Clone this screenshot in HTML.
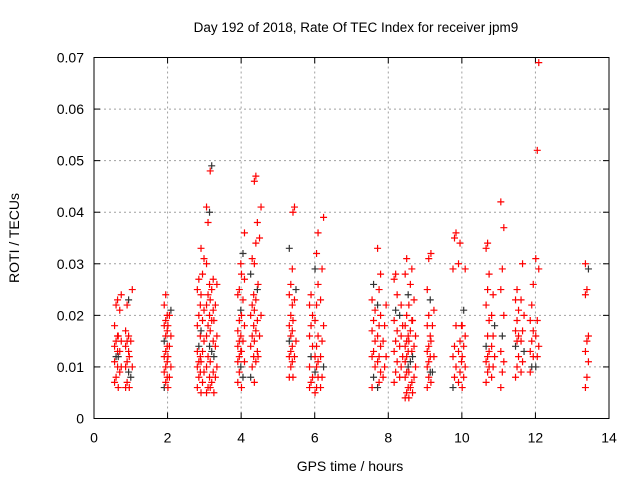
<!DOCTYPE html>
<html><head><meta charset="utf-8"><style>
body{margin:0;background:#fff}
svg{display:block;font-family:"Liberation Sans",sans-serif}
</style></head><body>
<svg id="chart" width="640" height="480" viewBox="0 0 640 480">
<text x="356" y="32" text-anchor="middle" font-size="13.5">Day 192 of 2018, Rate Of TEC Index for receiver jpm9</text>
<text x="350" y="471" text-anchor="middle" font-size="14">GPS time / hours</text>
<text x="0" y="0" transform="translate(19,238) rotate(-90)" text-anchor="middle" font-size="14">ROTI / TECUs</text>
<g id="grid"></g><g id="ticks"></g><g id="points"></g>
<rect x="94" y="57.5" width="515" height="361" fill="none" stroke="#000" stroke-width="1"/>
</svg>
<script>
const xTicks=[0,2,4,6,8,10,12,14];
const yTicks=[0,0.01,0.02,0.03,0.04,0.05,0.06,0.07];
const yTickLabels=["0","0.01","0.02","0.03","0.04","0.05","0.06","0.07"];
const strandX=[0.6,0.7,0.9,1.0,1.95,2.05,2.85,2.95,3.1,3.2,3.3,3.95,4.05,4.3,4.4,4.5,5.35,5.45,5.9,6.05,6.2,7.6,7.75,7.9,8.2,8.35,8.5,8.6,8.7,9.1,9.2,9.8,9.95,10.05,10.7,10.85,11.1,11.5,11.65,11.9,12.05,13.4];
const strandY=[
[0.007,0.008,0.010,0.011,0.012,0.013,0.014,0.015,0.016,0.018,0.022,0.023],
[0.006,0.009,0.010,0.012,0.013,0.015,0.016,0.021,0.024],
[0.006,0.007,0.009,0.010,0.011,0.013,0.014,0.015,0.016,0.017,0.022,0.023],
[0.006,0.008,0.010,0.012,0.015,0.025],
[0.006,0.007,0.008,0.009,0.010,0.011,0.012,0.013,0.014,0.015,0.016,0.017,0.018,0.019,0.020,0.022,0.024],
[0.006,0.008,0.010,0.012,0.014,0.016,0.018,0.020,0.021],
[0.006,0.008,0.009,0.010,0.011,0.012,0.013,0.014,0.016,0.018,0.020,0.022,0.025,0.027],
[0.005,0.007,0.009,0.011,0.013,0.015,0.017,0.019,0.021,0.024,0.028,0.031,0.033],
[0.005,0.006,0.008,0.010,0.012,0.014,0.016,0.018,0.020,0.022,0.024,0.026,0.030,0.038,0.040,0.041],
[0.006,0.007,0.009,0.011,0.013,0.015,0.017,0.019,0.021,0.023,0.025,0.027,0.048,0.049],
[0.005,0.008,0.010,0.012,0.014,0.016,0.019,0.022,0.026],
[0.007,0.009,0.010,0.011,0.012,0.013,0.014,0.015,0.016,0.017,0.019,0.021,0.024,0.025,0.030],
[0.006,0.008,0.011,0.013,0.015,0.018,0.020,0.023,0.027,0.028,0.032,0.036],
[0.008,0.010,0.012,0.014,0.016,0.018,0.020,0.022,0.024,0.028,0.031],
[0.007,0.011,0.013,0.015,0.017,0.019,0.021,0.023,0.025,0.030,0.034,0.038,0.046,0.047],
[0.012,0.016,0.020,0.026,0.035,0.041],
[0.008,0.010,0.011,0.012,0.013,0.014,0.015,0.016,0.017,0.018,0.020,0.022,0.024,0.026,0.029,0.033],
[0.008,0.012,0.015,0.019,0.023,0.025,0.040,0.041],
[0.006,0.007,0.008,0.010,0.012,0.014,0.016,0.018,0.020,0.022,0.024],
[0.005,0.006,0.008,0.009,0.010,0.011,0.012,0.014,0.016,0.019,0.022,0.026,0.029,0.032,0.036],
[0.006,0.008,0.010,0.012,0.015,0.018,0.023,0.029,0.039],
[0.006,0.008,0.010,0.012,0.013,0.015,0.017,0.019,0.021,0.023,0.026],
[0.006,0.007,0.009,0.011,0.012,0.014,0.016,0.018,0.020,0.022,0.025,0.028,0.033],
[0.008,0.010,0.012,0.015,0.018,0.022],
[0.007,0.009,0.011,0.013,0.015,0.017,0.019,0.021,0.024,0.027,0.028],
[0.008,0.010,0.012,0.014,0.016,0.018,0.020,0.022],
[0.004,0.005,0.006,0.008,0.009,0.010,0.011,0.012,0.013,0.014,0.015,0.016,0.018,0.020,0.024,0.028,0.031],
[0.004,0.006,0.007,0.009,0.011,0.013,0.015,0.017,0.019,0.022,0.026,0.029],
[0.005,0.008,0.010,0.012,0.014,0.016,0.019,0.023],
[0.006,0.008,0.009,0.010,0.011,0.012,0.013,0.014,0.016,0.018,0.020,0.023,0.025,0.031],
[0.007,0.009,0.012,0.015,0.018,0.021,0.032],
[0.006,0.008,0.010,0.012,0.014,0.018,0.029,0.035,0.036],
[0.007,0.009,0.011,0.013,0.015,0.018,0.030,0.034],
[0.006,0.008,0.010,0.012,0.014,0.016,0.018,0.021,0.029],
[0.007,0.009,0.010,0.011,0.012,0.013,0.014,0.016,0.019,0.022,0.025,0.028,0.033,0.034],
[0.008,0.010,0.012,0.014,0.016,0.018,0.020,0.024],
[0.006,0.009,0.011,0.013,0.016,0.020,0.025,0.029,0.037,0.042],
[0.008,0.010,0.012,0.014,0.015,0.016,0.017,0.019,0.021,0.023,0.025],
[0.009,0.011,0.013,0.015,0.017,0.020,0.023,0.030],
[0.009,0.010,0.012,0.013,0.015,0.017,0.019,0.022,0.026],
[0.010,0.012,0.014,0.016,0.019,0.029,0.031,0.052,0.069],
[0.006,0.008,0.011,0.013,0.015,0.016,0.024,0.025,0.029,0.030]
];
const NS="http://www.w3.org/2000/svg";
const X0=94,X1=609,Y0=418.5,Y1=57.5;
function sx(v){return X0+(v-0)/(14-0)*(X1-X0);}
function sy(v){return Y0-(v-0)/(0.07-0)*(Y0-Y1);}
function mk(tag,attrs,parent){const e=document.createElementNS(NS,tag);for(const k in attrs)e.setAttribute(k,attrs[k]);parent.appendChild(e);return e;}
const grid=document.getElementById('grid'),ticks=document.getElementById('ticks'),pts=document.getElementById('points');
xTicks.forEach(t=>{
  const x=sx(t);
  if(t>0&&t<14){const g=mk('line',{x1:x,x2:x,y1:Y0,y2:Y1,stroke:'#a0a0a0','stroke-dasharray':'2,3'},grid);
  
  }
  mk('line',{x1:x,x2:x,y1:Y0,y2:Y0-6,stroke:'#000'},ticks);
  mk('line',{x1:x,x2:x,y1:Y1,y2:Y1+6,stroke:'#000'},ticks);
  const tx=mk('text',{x:x,y:Y0+24,'text-anchor':'middle','font-size':'14'},ticks);
  tx.textContent=String(t);
  
  
});
yTicks.forEach((t,i)=>{
  const y=sy(t);
  if(t>0&&t<0.07){const g=mk('line',{x1:X0,x2:X1,y1:y,y2:y,stroke:'#a0a0a0','stroke-dasharray':'2,3'},grid);
  
  }
  mk('line',{x1:X0,x2:X0+6,y1:y,y2:y,stroke:'#000'},ticks);
  mk('line',{x1:X1,x2:X1-6,y1:y,y2:y,stroke:'#000'},ticks);
  const tx=mk('text',{x:X0-10,y:y+5,'text-anchor':'end','font-size':'14'},ticks);
  tx.textContent=yTickLabels[i];
  
  
});
strandX.forEach((xv,i)=>{
  strandY[i].forEach((yv,j)=>{
    const x=sx(xv)+((j%3)-1)*1.5, y=sy(yv);
    const col=((i+j)%9===4)?'#333':'#f00';
    const p=mk('path',{d:`M${x-3.5},${y}h7M${x},${y-3.5}v7`,stroke:col,'stroke-width':'1.2',fill:'none'},pts);
    
    
  });
});
</script>
</body></html>
